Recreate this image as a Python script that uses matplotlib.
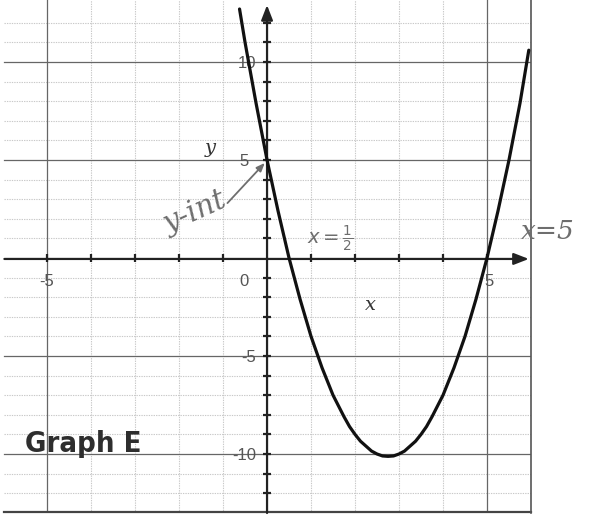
import matplotlib
matplotlib.use("Agg")
import matplotlib.pyplot as plt

# Parabola sampled off the grid: y-intercept 5, roots at x = 1/2 and x = 5
curve_x = [-0.625, -0.5, -0.25, 0, 0.25, 0.5, 0.75, 1, 1.25, 1.5, 1.75,
           1.875, 2, 2.125, 2.25, 2.375, 2.5, 2.625, 2.75, 2.875, 3, 3.125,
           3.25, 3.375, 3.5, 3.625, 3.75, 4, 4.25, 4.5, 4.75, 5,
           5.25, 5.5, 5.75, 5.95]
curve_y = [12.7, 11, 7.9, 5, 2.4, 0, -2.1, -4, -5.6, -7, -8.1,
           -8.6, -9, -9.35, -9.6, -9.85, -10, -10.1, -10.12, -10.1, -10, -9.85,
           -9.6, -9.35, -9, -8.6, -8.1, -7, -5.6, -4, -2.1, 0,
           2.4, 5, 7.9, 10.6]

x_ticks = list(range(-6, 7))
y_ticks = list(range(-13, 13))
x_tick_labels = {-5: "-5", 0: "0", 5: "5"}
y_tick_labels = {10: "10", 5: "5", -5: "-5", -10: "-10"}

XMIN, XMAX = -6.07, 6.0
YMIN, YMAX = -13.01, 13.16

fig = plt.figure(figsize=(5.91, 5.15), dpi=100)
ax = fig.add_axes([0, 2 / 515, 531 / 591, 513 / 515])
ax.set_xlim(XMIN, XMAX)
ax.set_ylim(YMIN, YMAX)
ax.set_xticks([])
ax.set_yticks([])
for side in ("left", "top", "bottom"):
    ax.spines[side].set_visible(False)
ax.spines["right"].set_color("#555555")
ax.spines["right"].set_linewidth(1.2)

light = dict(color="#c9c9c9", lw=0.8, ls=(0, (1.2, 1.0)), zorder=1)
dark = dict(color="#666666", lw=0.9, zorder=1.5)
gx0, gx1 = -5.97, XMAX
gy0, gy1 = YMIN, YMAX

# grid
for gx in x_ticks:
    if gx in (0, 6, -6):
        continue
    style = dark if gx in (-5, 5) else light
    ax.plot([gx, gx], [gy0, gy1], **style)
for gy in y_ticks:
    if gy in (0, -13):
        continue
    style = dark if gy in (-10, -5, 5, 10) else light
    ax.plot([gx0, gx1], [gy, gy], **style)

# frame along the bottom
ax.plot([gx0, XMAX], [YMIN + 0.05, YMIN + 0.05], color="#444444", lw=1.6,
        clip_on=False, zorder=2)

# axes with arrow heads
arrow = dict(arrowstyle="-|>,head_length=0.9,head_width=0.35",
             color="#222222", lw=1.6, shrinkA=0, shrinkB=0)
ax.annotate("", xy=(5.95, -0.05), xytext=(gx0, -0.05), arrowprops=arrow, zorder=3)
ax.annotate("", xy=(0, 12.9), xytext=(0, YMIN), arrowprops=arrow, zorder=3)

# tick marks
xt = [t for t in x_ticks if t not in (0, 6, -6)]
yt = [t for t in y_ticks if t not in (0, -13)]
ax.plot(xt, [0] * len(xt), ls="none", marker="|", ms=6, mew=1.6,
        color="#222222", zorder=3)
ax.plot([0] * len(yt), yt, ls="none", marker="_", ms=6, mew=1.6,
        color="#222222", zorder=3)

# tick labels
lab = dict(fontsize=12, color="#555555", family="Liberation Sans", zorder=2)
ax.text(-5, -1.2, x_tick_labels[-5], ha="center", va="center", **lab)
ax.text(-0.52, -1.2, x_tick_labels[0], ha="center", va="center", **lab)
ax.text(5.05, -1.2, x_tick_labels[5], ha="center", va="center", **lab)
for v, s in y_tick_labels.items():
    xr = -0.42 if v == 5 else -0.25
    ax.text(xr, v - 0.1, s, ha="right", va="center", **lab)

# the parabola
ax.plot(curve_x, curve_y, color="#111111", lw=2.3, solid_capstyle="round",
        solid_joinstyle="round", zorder=4, clip_on=False)

# axis names
ax.text(-1.3, 5.6, "y", fontsize=14, style="italic", family="DejaVu Serif",
        color="#333333", ha="center", va="center")
ax.text(2.35, -2.4, "x", fontsize=14, style="italic", family="DejaVu Serif",
        color="#333333", ha="center", va="center")

# notes
note = dict(color="#6e6e6e", style="italic", family="DejaVu Serif")
ax.text(-1.65, 2.3, "y-int", fontsize=21, rotation=24, ha="center",
        va="center", **note)
ax.annotate("", xy=(-0.05, 4.85), xytext=(-0.9, 2.8),
            arrowprops=dict(arrowstyle="-|>,head_length=0.5,head_width=0.2",
                            color="#6e6e6e", lw=1.3, shrinkA=0, shrinkB=0))
ax.text(1.45, 0.95, r"$x=\frac{1}{2}$", fontsize=14, ha="center",
        va="center", color="#6e6e6e")
ax.text(6.38, 1.35, "x=5", fontsize=19, ha="center", va="center",
        clip_on=False, **note)

ax.text(-5.5, -9.5, "Graph E", fontsize=21, fontweight="heavy",
        fontstretch="condensed", family="DejaVu Sans", color="#2e2e2e",
        ha="left", va="center", zorder=5)

fig.savefig("out.png", dpi=100)
